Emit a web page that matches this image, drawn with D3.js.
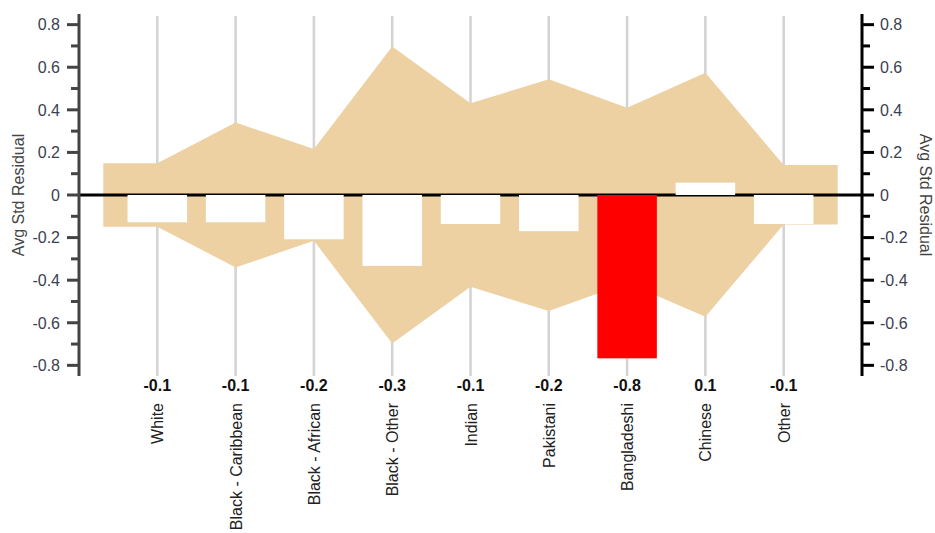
<!DOCTYPE html>
<html>
<head>
<meta charset="utf-8">
<script src="https://cdn.jsdelivr.net/npm/d3@7"></script>
<style>
  html, body { margin: 0; padding: 0; background: #fff; }
  svg { display: block; font-family: "Liberation Sans", Arial, sans-serif; }
</style>
</head>
<body>
<svg id="chart" width="935" height="533"></svg>
<script>
// ---- data ----
const categories = ["White", "Black - Caribbean", "Black - African", "Black - Other", "Indian", "Pakistani", "Bangladeshi", "Chinese", "Other"];
const avgResidual = [-0.128, -0.128, -0.208, -0.333, -0.136, -0.17, -0.767, 0.058, -0.136];
const bandUpper = [0.149, 0.34, 0.216, 0.697, 0.431, 0.543, 0.41, 0.574, 0.141];
const bandLower = [-0.149, -0.34, -0.215, -0.697, -0.431, -0.545, -0.413, -0.572, -0.138];
const highlighted = ["Bangladeshi"];
const majorTicks = [-0.8, -0.6, -0.4, -0.2, 0, 0.2, 0.4, 0.6, 0.8];
const minorTicks = [-0.7, -0.5, -0.3, -0.1, 0.1, 0.3, 0.5, 0.7];
const axisTitle = "Avg Std Residual";

// ---- layout ----
const svg = d3.select("#chart");
const xLeft = 79, xRight = 862, yTop = 14, yBottom = 376;

const x = d3.scalePoint().domain(categories).range([xLeft, xRight]).padding(1);
const y = d3.scaleLinear().domain([-0.85, 0.85]).range([yBottom, yTop]);
const step = x.step();
const barW = step * 0.76;
const ext = step * 0.69;
const locale = d3.formatLocale({ decimal: ".", thousands: ",", grouping: [3], currency: ["", ""], minus: "-" });
const fmt = locale.format(".1f");
const tickFmt = d => d === 0 ? "0" : fmt(d);

// grid lines
svg.append("g").selectAll("line").data(categories).join("line")
  .attr("x1", d => x(d)).attr("x2", d => x(d))
  .attr("y1", yTop + 2).attr("y2", yBottom)
  .attr("stroke", "#d4d4d4").attr("stroke-width", 2.6);

// band area
const bandPts = categories.map((c, i) => ({ x: x(c), hi: bandUpper[i], lo: bandLower[i] }));
bandPts.unshift({ x: x(categories[0]) - ext, hi: bandUpper[0], lo: bandLower[0] });
bandPts.push({ x: x(categories[categories.length - 1]) + ext, hi: bandUpper[bandUpper.length - 1], lo: bandLower[bandLower.length - 1] });
const area = d3.area().x(d => d.x).y0(d => y(d.lo)).y1(d => y(d.hi));
svg.append("path").datum(bandPts).attr("d", area).attr("fill", "#edd1a3");

// zero line
svg.append("line")
  .attr("x1", xLeft).attr("x2", xRight)
  .attr("y1", y(0)).attr("y2", y(0))
  .attr("stroke", "#000").attr("stroke-width", 3);

// bars
svg.append("g").selectAll("rect").data(categories).join("rect")
  .attr("x", d => x(d) - barW / 2)
  .attr("width", barW)
  .attr("y", (d, i) => y(Math.max(0, avgResidual[i])))
  .attr("height", (d, i) => Math.abs(y(avgResidual[i]) - y(0)))
  .attr("fill", d => highlighted.includes(d) ? "#ff0000" : "#ffffff");

// left axis
const gl = svg.append("g");
gl.append("line").attr("x1", xLeft).attr("x2", xLeft).attr("y1", yTop).attr("y2", yBottom)
  .attr("stroke", "#444").attr("stroke-width", 3);
gl.selectAll(".maj").data(majorTicks).join("line")
  .attr("x1", xLeft - 12).attr("x2", xLeft).attr("y1", d => y(d)).attr("y2", d => y(d))
  .attr("stroke", "#444").attr("stroke-width", 3);
gl.selectAll(".min").data(minorTicks).join("line")
  .attr("x1", xLeft - 8).attr("x2", xLeft).attr("y1", d => y(d)).attr("y2", d => y(d))
  .attr("stroke", "#444").attr("stroke-width", 3);
gl.selectAll("text").data(majorTicks).join("text")
  .attr("x", xLeft - 19).attr("y", d => y(d)).attr("dy", "0.36em")
  .attr("text-anchor", "end").attr("font-size", 16).attr("fill", "#3a4150")
  .text(tickFmt);

// right axis
const gr = svg.append("g");
gr.append("line").attr("x1", xRight).attr("x2", xRight).attr("y1", yTop).attr("y2", yBottom)
  .attr("stroke", "#000").attr("stroke-width", 3);
gr.selectAll(".maj").data(majorTicks).join("line")
  .attr("x1", xRight).attr("x2", xRight + 12).attr("y1", d => y(d)).attr("y2", d => y(d))
  .attr("stroke", "#000").attr("stroke-width", 3);
gr.selectAll(".min").data(minorTicks).join("line")
  .attr("x1", xRight).attr("x2", xRight + 8).attr("y1", d => y(d)).attr("y2", d => y(d))
  .attr("stroke", "#000").attr("stroke-width", 3);
gr.selectAll("text").data(majorTicks).join("text")
  .attr("x", xRight + 18).attr("y", d => y(d)).attr("dy", "0.36em")
  .attr("text-anchor", "start").attr("font-size", 16).attr("fill", "#3a4150")
  .text(tickFmt);

// axis titles
svg.append("text")
  .attr("transform", `translate(24,${y(0)}) rotate(-90)`)
  .attr("text-anchor", "middle").attr("font-size", 16).attr("fill", "#444")
  .text(axisTitle);
svg.append("text")
  .attr("transform", `translate(920,${y(0)}) rotate(90)`)
  .attr("text-anchor", "middle").attr("font-size", 16).attr("fill", "#444")
  .text(axisTitle);

// value labels
svg.append("g").selectAll("text").data(categories).join("text")
  .attr("x", d => x(d)).attr("y", 391)
  .attr("text-anchor", "middle").attr("font-size", 16).attr("font-weight", "bold").attr("fill", "#111")
  .text((d, i) => fmt(avgResidual[i]));

// category labels
svg.append("g").selectAll("text").data(categories).join("text")
  .attr("transform", d => `translate(${x(d) + 6},403) rotate(-90)`)
  .attr("text-anchor", "end").attr("font-size", 16).attr("fill", "#222")
  .text(d => d);
</script>
</body>
</html>
